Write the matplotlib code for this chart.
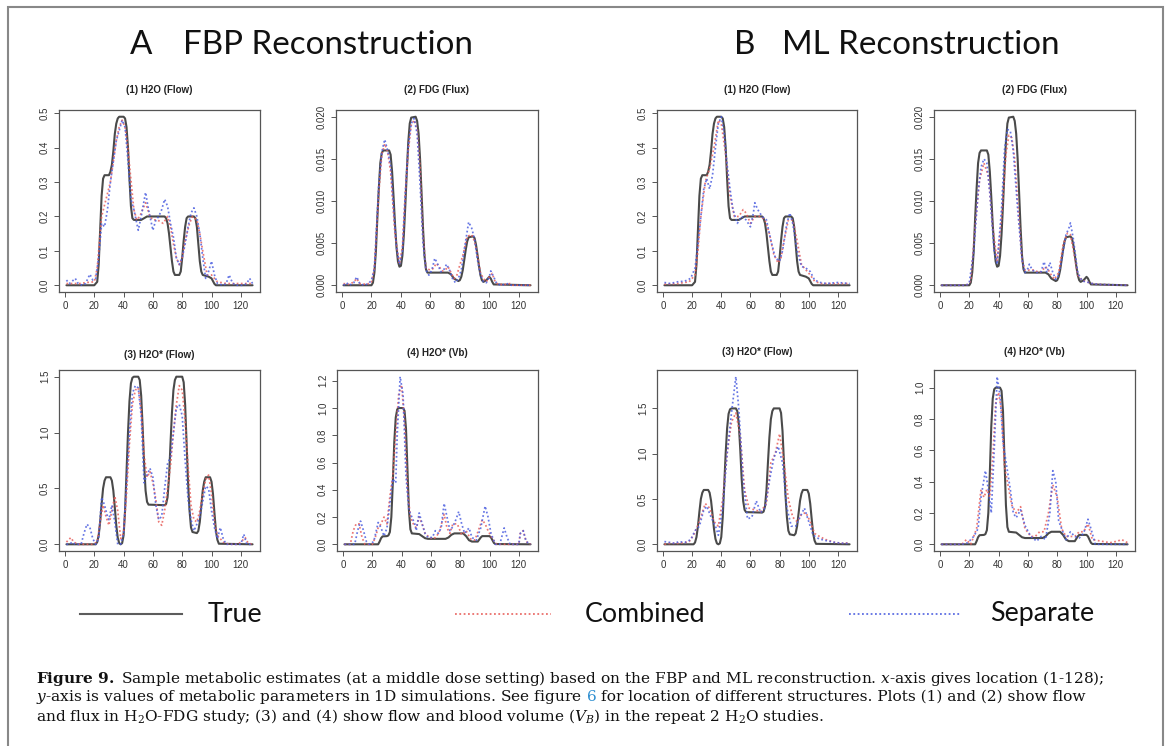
import matplotlib
matplotlib.use("Agg")
import matplotlib.pyplot as plt
from matplotlib.lines import Line2D
from matplotlib.patches import Rectangle

# ---------------- data ----------------
X_TICKS = [0, 20, 40, 60, 80, 100, 120]

PANEL_TITLES = ["(1) H2O (Flow)", "(2) FDG (Flux)", "(3) H2O* (Flow)", "(4) H2O* (Vb)"]
Y_TICKS_FLOW = [0.0, 0.1, 0.2, 0.3, 0.4, 0.5]
Y_LABELS_FLOW = ["0.0", "0.1", "0.2", "0.3", "0.4", "0.5"]
Y_TICKS_FLUX = [0.0, 0.005, 0.010, 0.015, 0.020]
Y_LABELS_FLUX = ["0.000", "0.005", "0.010", "0.015", "0.020"]
Y_TICKS_FLOW2 = [0.0, 0.5, 1.0, 1.5]
Y_LABELS_FLOW2 = ["0.0", "0.5", "1.0", "1.5"]
Y_TICKS_VB_A = [0.0, 0.2, 0.4, 0.6, 0.8, 1.0, 1.2]
Y_LABELS_VB_A = ["0.0", "0.2", "0.4", "0.6", "0.8", "1.0", "1.2"]
Y_TICKS_VB_B = [0.0, 0.2, 0.4, 0.6, 0.8, 1.0]
Y_LABELS_VB_B = ["0.0", "0.2", "0.4", "0.6", "0.8", "1.0"]

# True profiles (shared by FBP and ML)
TRUE_FLOW_X = [1, 20, 22, 23, 24, 25, 26, 27, 30, 31, 32, 33, 34, 35, 36, 37, 40, 41, 42, 43,
               44, 45, 46, 47, 52, 56, 68, 69, 70, 71, 72, 73, 74, 75, 78, 79, 80, 81, 82, 83,
               84, 88, 89, 90, 91, 92, 93, 94, 98, 100, 101, 102, 103, 128]
TRUE_FLOW_Y = [0, 0, 0.01, 0.06, 0.16, 0.26, 0.31, 0.32, 0.32, 0.33, 0.35, 0.39, 0.44, 0.47, 0.485, 0.49, 0.49, 0.485, 0.46, 0.40,
               0.31, 0.23, 0.195, 0.19, 0.19, 0.2, 0.2, 0.195, 0.18, 0.15, 0.11, 0.07, 0.04, 0.03, 0.03, 0.04, 0.08, 0.13, 0.17, 0.195,
               0.2, 0.2, 0.195, 0.17, 0.12, 0.07, 0.04, 0.03, 0.025, 0.02, 0.012, 0.004, 0, 0]

TRUE_FLUX_X = [1, 20, 21, 22, 23, 24, 25, 26, 27, 28, 32, 33, 34, 35, 36, 37, 38, 39, 40, 41,
               42, 43, 44, 45, 46, 47, 50, 51, 52, 53, 54, 55, 56, 57, 58, 72, 74, 76, 79, 80,
               81, 82, 83, 84, 85, 86, 89, 90, 91, 92, 93, 94, 95, 96, 98, 100, 101, 102, 103, 128]
TRUE_FLUX_Y = [0, 0, 0.0003, 0.0015, 0.004, 0.008, 0.0115, 0.0145, 0.0157, 0.016, 0.016, 0.0155, 0.0135, 0.0105, 0.0072, 0.0045, 0.0028, 0.0022, 0.0023, 0.0035,
               0.006, 0.0095, 0.0135, 0.017, 0.0192, 0.0199, 0.02, 0.0195, 0.018, 0.015, 0.011, 0.0068, 0.0035, 0.0019, 0.0015, 0.0015, 0.0013, 0.0008, 0.0005, 0.0006,
               0.001, 0.0018, 0.003, 0.0042, 0.0052, 0.0057, 0.0058, 0.0056, 0.0048, 0.0036, 0.0023, 0.0012, 0.0006, 0.0004, 0.0006, 0.001, 0.0008, 0.0004, 0.0001, 0]

TRUE_FLOW2_X = [1, 21, 22, 23, 24, 25, 26, 27, 28, 31, 32, 33, 34, 35, 36, 37, 38, 39, 40, 41,
                42, 43, 44, 45, 46, 47, 50, 51, 52, 53, 54, 55, 56, 57, 68, 69, 70, 71, 72, 73,
                74, 75, 76, 80, 81, 82, 83, 84, 85, 86, 87, 90, 91, 92, 93, 94, 95, 96, 99, 100,
                101, 102, 103, 104, 105, 128]
TRUE_FLOW2_Y = [0, 0, 0.02, 0.08, 0.2, 0.36, 0.5, 0.57, 0.6, 0.6, 0.57, 0.48, 0.33, 0.17, 0.06, 0.01, 0, 0.01, 0.08, 0.3,
                0.65, 1.0, 1.28, 1.44, 1.49, 1.5, 1.5, 1.47, 1.33, 1.05, 0.72, 0.48, 0.38, 0.355, 0.35, 0.36, 0.42, 0.6, 0.9, 1.18,
                1.38, 1.47, 1.5, 1.5, 1.45, 1.25, 0.9, 0.55, 0.3, 0.15, 0.11, 0.1, 0.12, 0.2, 0.34, 0.48, 0.56, 0.6, 0.6, 0.56,
                0.45, 0.28, 0.12, 0.04, 0.005, 0]

TRUE_VB_X = [1, 24, 25, 26, 27, 30, 31, 32, 33, 34, 35, 36, 37, 38, 41, 42, 43, 44, 45, 46,
             47, 52, 54, 56, 58, 70, 72, 74, 76, 82, 84, 86, 88, 92, 93, 94, 95, 100, 101, 102,
             103, 104, 128]
TRUE_VB_Y = [0, 0, 0.02, 0.045, 0.058, 0.06, 0.065, 0.09, 0.2, 0.45, 0.75, 0.93, 0.99, 1.0, 1.0, 0.98, 0.85, 0.55, 0.25, 0.11,
             0.08, 0.075, 0.06, 0.045, 0.04, 0.04, 0.05, 0.07, 0.08, 0.08, 0.06, 0.03, 0.02, 0.02, 0.035, 0.05, 0.06, 0.06, 0.05, 0.03,
             0.01, 0.002, 0]

# FBP estimates: (location, value)
FBP_FLOW_COMB = [(1,0.005),(5,0.005),(10,0.005),(15,0.008),(20,0.01),(22,0.05),(25,0.2),(28,0.25),(31,0.3),(33,0.36),(35,0.42),(37,0.46),(39,0.48),(41,0.46),(43,0.4),(44,0.35),(47,0.22),(49,0.19),(51,0.2),(53,0.22),(55,0.24),(58,0.2),(60,0.19),(63,0.19),(67,0.18),(70,0.2),(72,0.17),(74,0.12),(76,0.08),(78,0.06),(80,0.08),(82,0.13),(85,0.18),(87,0.2),(90,0.19),(92,0.15),(94,0.1),(97,0.03),(100,0.03),(102,0.02),(104,0.01),(110,0.005),(120,0.005),(128,0.005)]
FBP_FLOW_SEP = [(1,0.015),(3,0.005),(5,0.012),(7,0.02),(9,0.005),(12,0.0),(14,0.005),(17,0.032),(19,0.015),(21,0.02),(23,0.08),(25,0.18),(27,0.17),(29,0.22),(31,0.3),(33,0.36),(35,0.42),(37,0.45),(39,0.48),(41,0.46),(43,0.36),(45,0.25),(47,0.22),(49,0.18),(50,0.16),(52,0.2),(55,0.27),(57,0.22),(60,0.16),(62,0.19),(64,0.2),(66,0.22),(68,0.25),(70,0.23),(72,0.18),(74,0.14),(76,0.08),(78,0.06),(80,0.08),(82,0.12),(84,0.17),(86,0.21),(88,0.225),(90,0.2),(92,0.15),(94,0.08),(96,0.02),(98,0.04),(100,0.07),(102,0.03),(104,0.005),(108,0.0),(110,0.005),(112,0.03),(114,0.01),(116,0.0),(122,0.0),(124,0.005),(126,0.02),(128,0.005)]
FBP_FLUX_COMB = [(1,0.0002),(5,0.0001),(8,0.0004),(10,0.0008),(12,0.0002),(17,0.0001),(20,0.0004),(22,0.002),(25,0.011),(27,0.0155),(29,0.0168),(31,0.0158),(33,0.0135),(36,0.006),(39,0.0025),(41,0.0045),(43,0.011),(45,0.016),(47,0.019),(49,0.0196),(51,0.0185),(53,0.014),(55,0.006),(57,0.002),(60,0.0018),(62,0.002),(64,0.0026),(66,0.0022),(68,0.0017),(70,0.0018),(72,0.0022),(74,0.0015),(76,0.0008),(78,0.0012),(80,0.0024),(82,0.0035),(85,0.0058),(88,0.006),(90,0.0052),(92,0.0035),(94,0.0015),(96,0.0008),(98,0.0004),(100,0.001),(102,0.0014),(104,0.0004),(106,0.0001),(112,0.0001),(114,0.0002),(116,0.0),(128,0.0)]
FBP_FLUX_SEP = [(1,0.0),(3,0.0003),(5,0.0),(8,0.0003),(10,0.001),(12,0.0002),(15,0.0),(18,0.0002),(20,0.0006),(22,0.002),(25,0.012),(27,0.0158),(29,0.0173),(31,0.016),(33,0.0142),(35,0.009),(37,0.0045),(39,0.0025),(41,0.004),(43,0.011),(45,0.0165),(47,0.0192),(49,0.0198),(51,0.018),(53,0.012),(55,0.005),(57,0.0018),(59,0.0012),(61,0.0018),(63,0.0032),(65,0.0025),(67,0.0016),(69,0.0018),(71,0.0025),(73,0.0018),(75,0.0008),(77,0.0003),(79,0.0008),(81,0.0018),(83,0.0042),(86,0.0075),(88,0.0068),(90,0.0055),(92,0.003),(94,0.0012),(96,0.0004),(98,0.0003),(100,0.001),(101,0.0017),(103,0.001),(105,0.0002),(108,0.0),(113,0.0002),(115,0.0),(128,0.0)]
FBP_FLOW2_COMB = [(1,0.02),(4,0.06),(6,0.02),(9,0.0),(14,0.0),(19,0.0),(22,0.02),(24,0.2),(26,0.35),(28,0.25),(30,0.17),(32,0.3),(34,0.43),(36,0.3),(38,0.05),(40,0.1),(42,0.45),(44,0.9),(46,1.25),(48,1.38),(50,1.4),(52,1.2),(54,0.8),(56,0.6),(58,0.65),(60,0.55),(62,0.4),(64,0.2),(66,0.17),(68,0.3),(70,0.5),(72,0.7),(74,1.0),(76,1.25),(78,1.42),(80,1.38),(82,1.1),(84,0.7),(86,0.35),(88,0.22),(90,0.2),(92,0.3),(94,0.45),(96,0.58),(98,0.62),(100,0.45),(102,0.2),(104,0.08),(106,0.05),(108,0.02),(112,0.0),(118,0.0),(120,0.02),(123,0.06),(125,0.01),(128,0.0)]
FBP_FLOW2_SEP = [(1,0.0),(3,0.0),(5,0.02),(7,0.0),(11,0.0),(13,0.1),(15,0.18),(17,0.15),(19,0.05),(21,0.0),(23,0.05),(25,0.42),(27,0.35),(29,0.25),(30,0.22),(32,0.35),(34,0.2),(36,0.0),(38,0.0),(40,0.1),(42,0.55),(44,1.0),(46,1.35),(48,1.42),(50,1.4),(52,1.15),(54,0.55),(56,0.62),(58,0.68),(60,0.6),(62,0.35),(64,0.22),(66,0.25),(68,0.5),(70,0.72),(72,0.78),(74,1.0),(76,1.22),(78,1.25),(80,1.15),(82,0.75),(84,0.4),(86,0.22),(88,0.12),(90,0.18),(92,0.25),(94,0.38),(96,0.52),(98,0.5),(100,0.3),(102,0.15),(104,0.05),(106,0.15),(108,0.05),(110,0.0),(120,0.0),(122,0.09),(124,0.0),(128,0.0)]
FBP_VB_COMB = [(1,0.0),(5,0.0),(7,0.1),(9,0.15),(11,0.15),(13,0.05),(15,0.0),(20,0.0),(22,0.05),(24,0.12),(26,0.15),(28,0.2),(30,0.15),(32,0.35),(34,0.5),(36,0.8),(38,1.1),(40,1.17),(42,0.9),(44,0.4),(46,0.2),(48,0.15),(50,0.12),(52,0.2),(54,0.15),(56,0.08),(59,0.05),(62,0.04),(64,0.06),(66,0.1),(69,0.22),(71,0.12),(73,0.08),(75,0.15),(78,0.15),(81,0.07),(84,0.1),(87,0.04),(90,0.03),(93,0.12),(95,0.18),(97,0.15),(99,0.1),(102,0.04),(105,0.0),(110,0.0),(120,0.0),(121,0.08),(123,0.1),(125,0.02),(128,0.0)]
FBP_VB_SEP = [(1,0.0),(8,0.0),(10,0.1),(12,0.17),(14,0.1),(16,0.02),(18,0.0),(21,0.02),(24,0.16),(26,0.12),(28,0.06),(30,0.12),(32,0.3),(34,0.48),(36,0.45),(37,0.8),(39,1.23),(41,1.1),(43,0.5),(45,0.25),(47,0.2),(49,0.15),(50,0.1),(52,0.23),(54,0.15),(56,0.08),(58,0.05),(61,0.05),(63,0.1),(65,0.08),(67,0.12),(69,0.3),(71,0.2),(73,0.1),(75,0.13),(77,0.18),(79,0.24),(81,0.15),(83,0.08),(86,0.12),(88,0.05),(91,0.03),(94,0.12),(97,0.28),(99,0.2),(101,0.08),(104,0.0),(107,0.0),(110,0.12),(112,0.05),(114,0.0),(120,0.0),(121,0.08),(123,0.1),(125,0.02),(128,0.0)]

# ML estimates: (location, value)
ML_FLOW_COMB = [(1,0.003),(10,0.005),(18,0.01),(22,0.03),(24,0.1),(26,0.2),(29,0.3),(32,0.34),(35,0.4),(38,0.48),(40,0.47),(43,0.38),(46,0.26),(49,0.2),(52,0.2),(55,0.22),(57,0.21),(60,0.18),(63,0.2),(67,0.2),(70,0.19),(73,0.15),(76,0.09),(79,0.065),(81,0.08),(83,0.13),(86,0.19),(89,0.19),(92,0.13),(95,0.06),(98,0.045),(101,0.03),(104,0.012),(108,0.005),(128,0.005)]
ML_FLOW_SEP = [(1,0.008),(5,0.005),(10,0.01),(15,0.012),(19,0.02),(22,0.05),(24,0.12),(26,0.2),(28,0.28),(30,0.31),(32,0.28),(34,0.32),(36,0.4),(38,0.47),(40,0.49),(42,0.44),(44,0.35),(46,0.28),(48,0.22),(51,0.18),(54,0.2),(57,0.19),(60,0.17),(62,0.21),(63,0.24),(65,0.22),(68,0.2),(71,0.19),(74,0.13),(77,0.08),(80,0.07),(82,0.1),(85,0.18),(87,0.21),(89,0.18),(92,0.1),(95,0.055),(98,0.05),(101,0.04),(104,0.015),(108,0.008),(112,0.005),(120,0.008),(128,0.005)]
ML_FLUX_COMB = [(1,0.0),(18,0.0),(21,0.0005),(24,0.007),(27,0.0125),(30,0.0145),(33,0.013),(36,0.007),(39,0.0028),(42,0.008),(45,0.0155),(47,0.0178),(49,0.0175),(51,0.015),(53,0.01),(56,0.003),(58,0.0018),(61,0.0018),(64,0.0018),(68,0.0015),(70,0.0018),(72,0.0022),(74,0.0018),(76,0.0012),(78,0.0007),(81,0.0015),(84,0.0048),(87,0.0062),(89,0.006),(91,0.0042),(94,0.0012),(97,0.0006),(100,0.0004),(104,0.0002),(108,0.0001),(128,0.0)]
ML_FLUX_SEP = [(1,0.0),(18,0.0),(20,0.0003),(23,0.004),(26,0.011),(28,0.014),(30,0.015),(32,0.0145),(34,0.011),(37,0.004),(39,0.0025),(42,0.009),(44,0.016),(46,0.0185),(48,0.0183),(50,0.016),(53,0.009),(56,0.003),(58,0.0015),(60,0.002),(61,0.0025),(63,0.0018),(66,0.0015),(69,0.0016),(71,0.0028),(73,0.0015),(75,0.0027),(77,0.0015),(79,0.0007),(81,0.0012),(83,0.003),(86,0.006),(88,0.0068),(89,0.0074),(91,0.0055),(94,0.0015),(97,0.0005),(100,0.0004),(104,0.0002),(108,0.0001),(128,0.0)]
ML_FLOW2_COMB = [(1,0.0),(5,0.01),(10,0.01),(15,0.02),(18,0.03),(21,0.1),(25,0.25),(29,0.45),(32,0.4),(35,0.25),(38,0.2),(41,0.5),(44,1.0),(47,1.35),(50,1.45),(53,1.2),(56,0.6),(59,0.4),(63,0.38),(67,0.36),(71,0.45),(74,0.9),(77,1.0),(80,1.22),(83,0.9),(86,0.5),(89,0.3),(92,0.25),(95,0.33),(98,0.35),(101,0.25),(104,0.12),(108,0.08),(112,0.05),(118,0.02),(124,0.01),(128,0.02)]
ML_FLOW2_SEP = [(1,0.03),(5,0.02),(8,0.01),(11,0.03),(15,0.02),(19,0.05),(22,0.15),(25,0.2),(28,0.38),(30,0.42),(33,0.3),(36,0.2),(38,0.1),(41,0.4),(44,1.0),(47,1.45),(50,1.85),(52,1.5),(55,0.7),(58,0.28),(61,0.3),(64,0.48),(67,0.35),(70,0.4),(73,0.7),(76,0.95),(79,1.08),(82,0.9),(85,0.4),(88,0.2),(91,0.2),(94,0.3),(97,0.4),(100,0.25),(103,0.1),(107,0.06),(112,0.04),(118,0.02),(124,0.01),(128,0.01)]
ML_VB_COMB = [(1,0.0),(15,0.0),(18,0.03),(21,0.0),(25,0.1),(28,0.35),(30,0.3),(32,0.35),(34,0.3),(36,0.55),(38,0.9),(40,0.97),(42,0.85),(44,0.5),(46,0.4),(49,0.25),(52,0.2),(55,0.24),(58,0.1),(62,0.05),(65,0.05),(68,0.08),(71,0.08),(74,0.2),(77,0.38),(80,0.3),(83,0.1),(86,0.05),(89,0.05),(92,0.05),(95,0.08),(98,0.08),(101,0.13),(104,0.03),(110,0.02),(116,0.01),(121,0.02),(124,0.03),(128,0.01)]
ML_VB_SEP = [(1,0.0),(15,0.0),(19,0.01),(23,0.05),(26,0.1),(28,0.3),(31,0.47),(33,0.35),(35,0.2),(37,0.6),(39,1.07),(41,0.95),(43,0.65),(45,0.53),(48,0.35),(50,0.2),(52,0.17),(55,0.22),(58,0.12),(62,0.05),(66,0.02),(69,0.05),(72,0.03),(75,0.2),(77,0.47),(79,0.4),(81,0.15),(83,0.1),(86,0.03),(89,0.08),(92,0.05),(95,0.04),(98,0.07),(101,0.16),(103,0.1),(106,0.0),(128,0.0)]

HEADERS = [("A", "FBP Reconstruction"), ("B", "ML Reconstruction")]
LEGEND_LABELS = ["True", "Combined", "Separate"]

# ---------------- style ----------------
W, H = 1168, 746
TRUE_COLOR = "#4a4a4a"
COMB_COLOR = "#e8605c"
SEP_COLOR = "#4c5fe0"
BOX_COLOR = "#555555"
TICK_FS = 7.0
TITLE_FS = 7.0

plt.rcParams["font.family"] = ["Liberation Sans", "DejaVu Sans"]
plt.rcParams["mathtext.fontset"] = "custom"
plt.rcParams["mathtext.rm"] = "DejaVu Serif"
plt.rcParams["mathtext.it"] = "DejaVu Serif:italic"
plt.rcParams["mathtext.bf"] = "DejaVu Serif:bold"

fig = plt.figure(figsize=(W / 100, H / 100), dpi=100)
fig.patch.set_facecolor("white")


def px_rect(l, t, r, b):
    return [l / W, 1 - b / H, (r - l) / W, (b - t) / H]


panels = [
    # (rect px, title, title pad, true x, true y, comb, sep, yticks, ylabels)
    ((59, 110, 260, 292), PANEL_TITLES[0], 12, TRUE_FLOW_X, TRUE_FLOW_Y, FBP_FLOW_COMB, FBP_FLOW_SEP, Y_TICKS_FLOW, Y_LABELS_FLOW),
    ((336, 110, 538, 292), PANEL_TITLES[1], 12, TRUE_FLUX_X, TRUE_FLUX_Y, FBP_FLUX_COMB, FBP_FLUX_SEP, Y_TICKS_FLUX, Y_LABELS_FLUX),
    ((59, 370, 260, 551), PANEL_TITLES[2], 9, TRUE_FLOW2_X, TRUE_FLOW2_Y, FBP_FLOW2_COMB, FBP_FLOW2_SEP, Y_TICKS_FLOW2, Y_LABELS_FLOW2),
    ((337, 370, 538, 551), PANEL_TITLES[3], 10, TRUE_VB_X, TRUE_VB_Y, FBP_VB_COMB, FBP_VB_SEP, Y_TICKS_VB_A, Y_LABELS_VB_A),
    ((657, 110, 857, 292), PANEL_TITLES[0], 12, TRUE_FLOW_X, TRUE_FLOW_Y, ML_FLOW_COMB, ML_FLOW_SEP, Y_TICKS_FLOW, Y_LABELS_FLOW),
    ((934, 110, 1135, 292), PANEL_TITLES[1], 12, TRUE_FLUX_X, TRUE_FLUX_Y, ML_FLUX_COMB, ML_FLUX_SEP, Y_TICKS_FLUX, Y_LABELS_FLUX),
    ((657, 370, 857, 551), PANEL_TITLES[2], 11, TRUE_FLOW2_X, TRUE_FLOW2_Y, ML_FLOW2_COMB, ML_FLOW2_SEP, Y_TICKS_FLOW2, Y_LABELS_FLOW2),
    ((934, 370, 1135, 551), PANEL_TITLES[3], 11, TRUE_VB_X, TRUE_VB_Y, ML_VB_COMB, ML_VB_SEP, Y_TICKS_VB_B, Y_LABELS_VB_B),
]

dotted = (0, (1.0, 1.4))
for rect, title, tpad, tx, ty, comb, sep, yt, yl in panels:
    ax = fig.add_axes(px_rect(*rect))
    ax.plot(tx, ty, color=TRUE_COLOR, lw=1.5, solid_capstyle="round")
    ax.plot([p[0] for p in comb], [p[1] for p in comb], color=COMB_COLOR, lw=1.25, ls=dotted, alpha=0.85)
    ax.plot([p[0] for p in sep], [p[1] for p in sep], color=SEP_COLOR, lw=1.25, ls=dotted, alpha=0.85)
    ax.margins(x=0.04, y=0.04)
    ax.set_xticks(X_TICKS)
    ax.set_xticklabels([str(v) for v in X_TICKS])
    ax.set_yticks(yt)
    ax.set_yticklabels(yl, rotation=90, va="center")
    ax.tick_params(axis="both", direction="out", length=3.5, width=0.7, colors=BOX_COLOR,
                   labelcolor="#333333", labelsize=TICK_FS, pad=3)
    for s in ax.spines.values():
        s.set_color(BOX_COLOR)
        s.set_linewidth(0.9)
    ax.set_title(title, fontsize=TITLE_FS, fontweight="bold", color="#222222", pad=tpad)

# ---------------- figure-level text ----------------
renderer = fig.canvas.get_renderer()


def fitted_size(s, target_w, family, weight="normal", base=20):
    t = fig.text(0, 0, s, fontsize=base, family=family, fontweight=weight)
    w = t.get_window_extent(renderer).width
    t.remove()
    return base * target_w / w


HEAD_FAMILY = ["Lato", "DejaVu Sans"]
hfs = fitted_size(HEADERS[0][1], 290, HEAD_FAMILY)
for (letter, word), xl, xw in zip(HEADERS, (130, 734), (183, 782)):
    fig.text(xl / W, 1 - 45 / H, letter, fontsize=hfs, family=HEAD_FAMILY, color="#111111",
             ha="left", va="center")
    fig.text(xw / W, 1 - 45 / H, word, fontsize=hfs, family=HEAD_FAMILY, color="#111111",
             ha="left", va="center")

# legend
lfs = fitted_size(LEGEND_LABELS[1], 121, HEAD_FAMILY)
leg_y = 1 - 614 / H
leg_items = [((80, 182), 208, TRUE_COLOR, "-"), ((455, 551), 585, COMB_COLOR, dotted), ((849, 961), 990, SEP_COLOR, dotted)]
for label, ((x0, x1), xt, col, ls) in zip(LEGEND_LABELS, leg_items):
    fig.add_artist(Line2D([x0 / W, x1 / W], [leg_y, leg_y], color=col, lw=1.5 if ls == "-" else 1.3,
                          ls=ls, alpha=0.9, transform=fig.transFigure))
    fig.text(xt / W, leg_y, label, fontsize=lfs, family=HEAD_FAMILY, color="#111111", ha="left", va="center")

# caption
CAP_FAMILY = ["DejaVu Serif"]
line1 = r"$\mathbf{Figure\ 9.}$ Sample metabolic estimates (at a middle dose setting) based on the FBP and ML reconstruction. $x$-axis gives location (1-128);"
cfs = min(fitted_size(line1, 1070, CAP_FAMILY), 11.5)
cap_x = 36
fig.text(cap_x / W, 1 - 678 / H, line1, fontsize=cfs, family=CAP_FAMILY, color="#111111", ha="left", va="center")

pieces2 = [(r"$y$-axis is values of metabolic parameters in 1D simulations. See figure", "#111111"),
           ("6", "#2f8fd0"),
           ("for location of different structures. Plots (1) and (2) show flow", "#111111")]
sp = fig.text(0, 0, "a a", fontsize=cfs, family=CAP_FAMILY)
sp2 = fig.text(0, 0, "aa", fontsize=cfs, family=CAP_FAMILY)
space_w = sp.get_window_extent(renderer).width - sp2.get_window_extent(renderer).width
sp.remove()
sp2.remove()
xcur = cap_x
for s, col in pieces2:
    t = fig.text(xcur / W, 1 - 697 / H, s, fontsize=cfs, family=CAP_FAMILY, color=col, ha="left", va="center")
    xcur += t.get_window_extent(renderer).width + space_w

line3 = r"and flux in H$_2$O-FDG study; (3) and (4) show flow and blood volume ($V_B$) in the repeat 2 H$_2$O studies."
fig.text(cap_x / W, 1 - 716 / H, line3, fontsize=cfs, family=CAP_FAMILY, color="#111111", ha="left", va="center")

# outer frame
fig.add_artist(Rectangle((8 / W, -0.05), (1163 - 8) / W, 1.05 - 7 / H, transform=fig.transFigure,
                         fill=False, edgecolor="#888888", lw=1.5))

fig.savefig("out.png", dpi=100, facecolor="white")
